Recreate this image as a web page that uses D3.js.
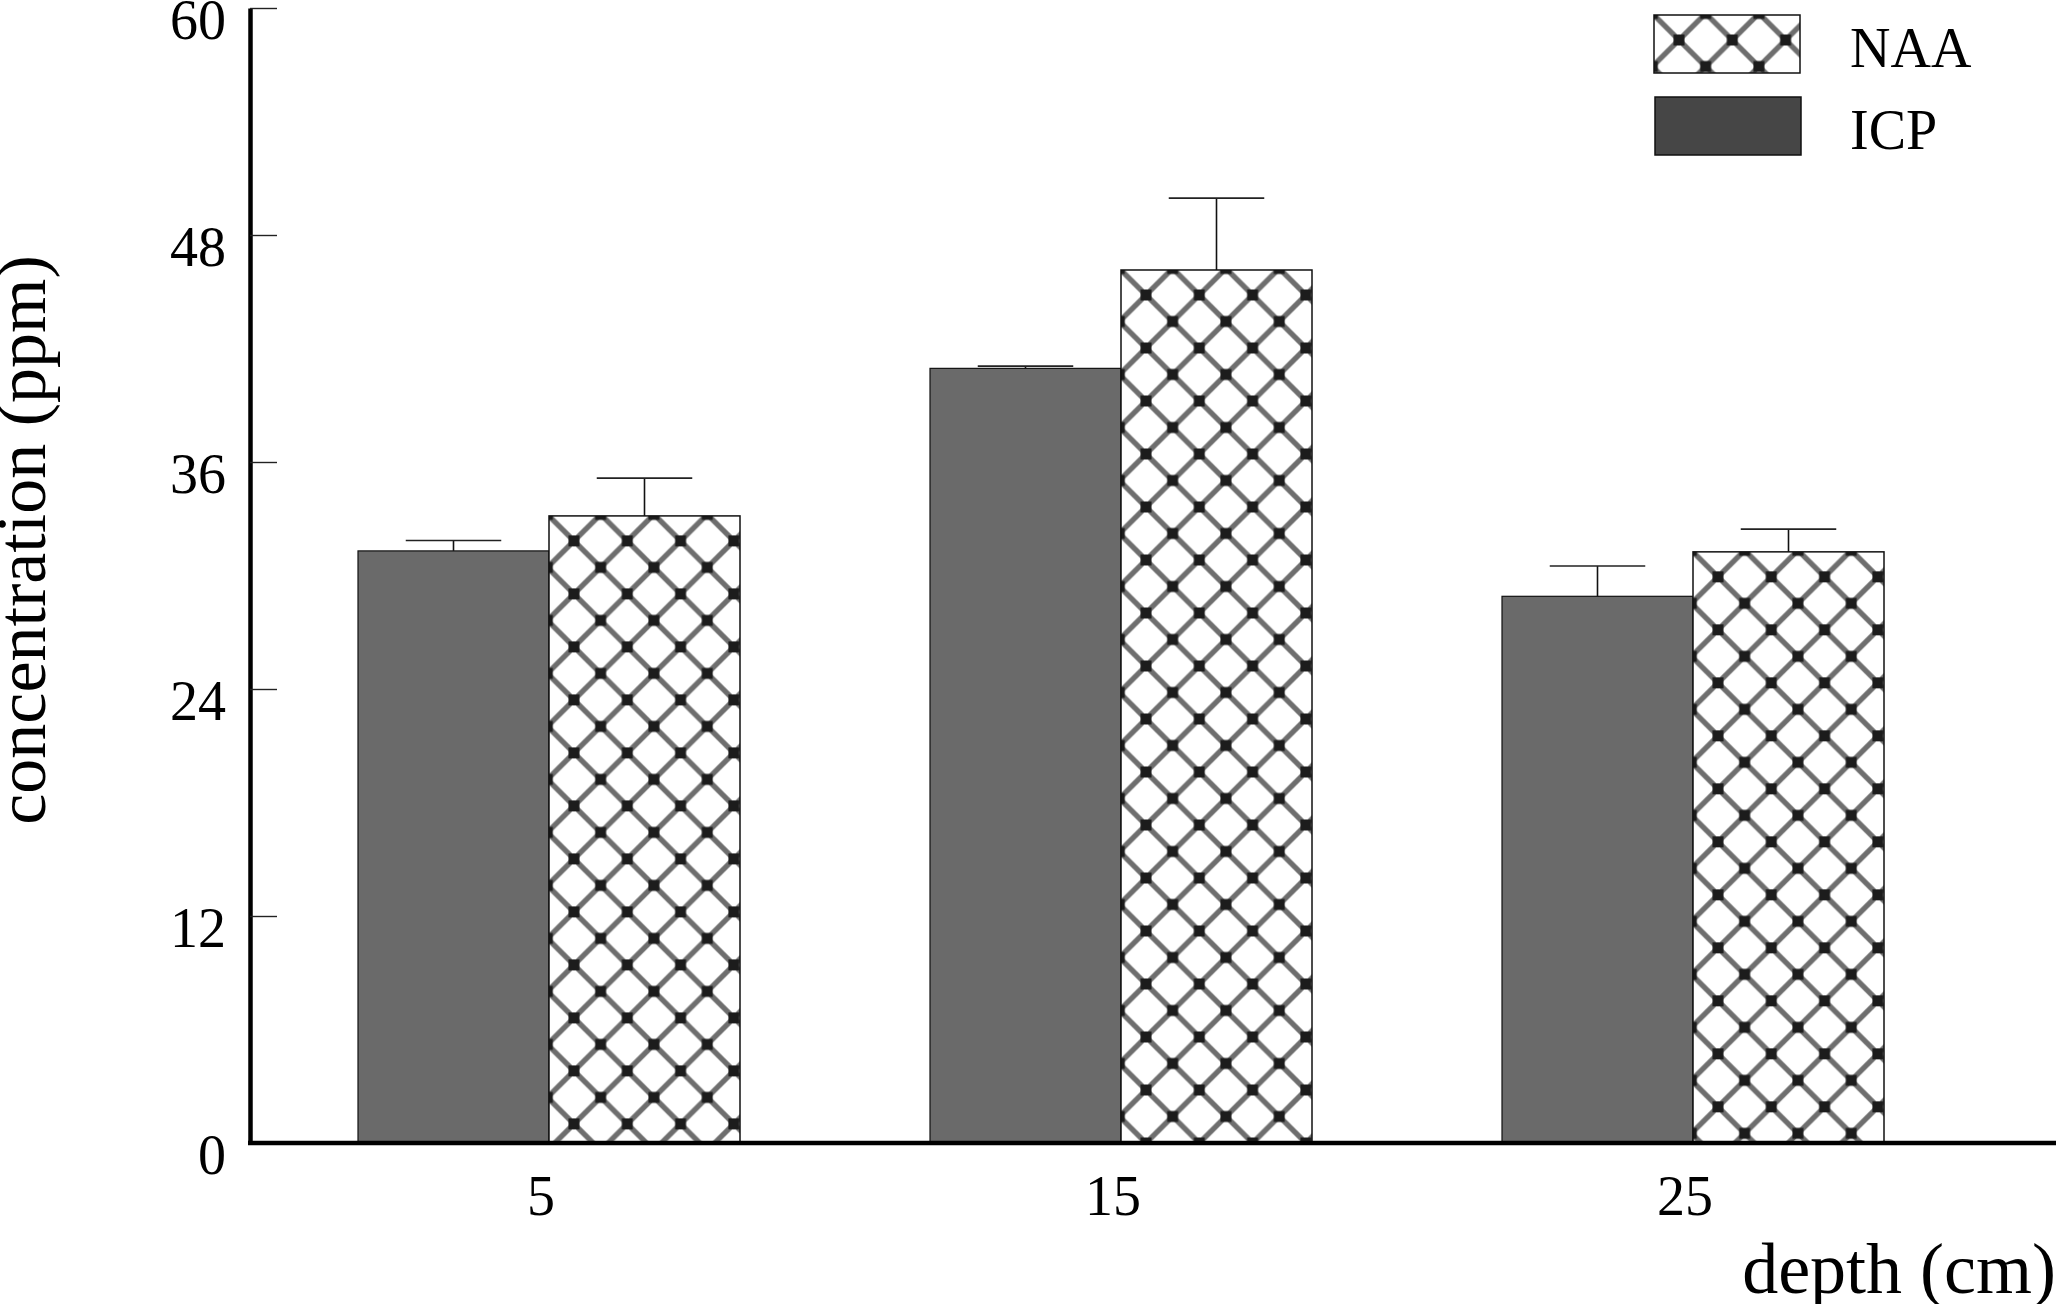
<!DOCTYPE html>
<html>
<head>
<meta charset="utf-8">
<script src="https://cdn.jsdelivr.net/npm/d3@7"></script>
<style>
  html, body { margin: 0; padding: 0; background: #fff; }
  svg { display: block; }
  text { font-family: "Liberation Serif", "Times New Roman", serif; fill: #000; }
</style>
</head>
<body>
<script>
// ---- data ----
const depths = ["5", "15", "25"];
const seriesNames = ["ICP", "NAA"];
const icpValues = [31.3, 40.95, 28.9];
const icpErrors = [0.55, 0.12, 1.6];
const naaValues = [33.15, 46.15, 31.25];
const naaErrors = [2.0, 3.8, 1.2];
const yTicks = [0, 12, 24, 36, 48, 60];
const legendOrder = ["NAA", "ICP"];
const xTitle = "depth (cm)";
const yTitle = "concentration (ppm)";

// ---- layout ----
const W = 2058, H = 1304;
const svg = d3.select("body").append("svg").attr("width", W).attr("height", H);

const y = d3.scaleLinear().domain([0, 60]).range([1143, 8]);
const x0 = d3.scaleBand().domain(depths).range([263, 1979]).padding(0);
const x1 = d3.scaleBand().domain(seriesNames).range([95, 477]).padding(0);

// ---- pattern ----
const defs = svg.append("defs");
const blur = defs.append("filter").attr("id", "soft")
  .attr("x", "-10%").attr("y", "-10%").attr("width", "120%").attr("height", "120%");
blur.append("feGaussianBlur").attr("stdDeviation", 0.7);

const pw = 53.3, ph = 53;
const pat = defs.append("pattern")
  .attr("id", "cross")
  .attr("patternUnits", "userSpaceOnUse")
  .attr("x", 25 - pw / 2).attr("y", 25 - ph / 2)
  .attr("width", pw).attr("height", ph);
pat.append("rect").attr("width", pw).attr("height", ph).attr("fill", "#fff");
const pg = pat.append("g").attr("filter", "url(#soft)");
[[-pw, -ph, 2 * pw, 2 * ph], [2 * pw, -ph, -pw, 2 * ph]].forEach(([a, b, c, d]) => {
  pg.append("line").attr("x1", a).attr("y1", b).attr("x2", c).attr("y2", d)
    .attr("stroke", "#6e6e6e").attr("stroke-width", 5.4);
});
const sq = 11;
[[0, 0], [pw, 0], [0, ph], [pw, ph], [pw / 2, ph / 2]].forEach(([cx, cy]) => {
  pg.append("rect").attr("x", cx - sq / 2).attr("y", cy - sq / 2)
    .attr("width", sq).attr("height", sq).attr("fill", "#1e1e1e");
});

// ---- bars ----
const rows = depths.map((d, i) => ({
  depth: d,
  items: [
    { key: "ICP", value: icpValues[i], err: icpErrors[i] },
    { key: "NAA", value: naaValues[i], err: naaErrors[i] }
  ]
}));

const groups = svg.append("g").selectAll("g.grp").data(rows).join("g")
  .attr("class", "grp")
  .attr("transform", d => `translate(${x0(d.depth)},0)`);

const bars = groups.selectAll("g.bar").data(d => d.items).join("g")
  .attr("class", "bar")
  .attr("transform", d => `translate(${x1(d.key)},${y(d.value)})`);

bars.append("rect")
  .attr("x", 0).attr("y", 0)
  .attr("width", x1.bandwidth())
  .attr("height", d => y(0) - y(d.value))
  .attr("fill", d => d.key === "ICP" ? "#6a6a6a" : "url(#cross)")
  .attr("stroke", "#111")
  .attr("stroke-width", d => d.key === "ICP" ? 1.2 : 1.5);

// error bars (upper only)
bars.append("line")
  .attr("x1", x1.bandwidth() / 2).attr("x2", x1.bandwidth() / 2)
  .attr("y1", 0).attr("y2", d => y(d.value + d.err) - y(d.value))
  .attr("stroke", "#111").attr("stroke-width", 1.6);
bars.append("line")
  .attr("x1", x1.bandwidth() / 4).attr("x2", x1.bandwidth() * 3 / 4)
  .attr("y1", d => y(d.value + d.err) - y(d.value))
  .attr("y2", d => y(d.value + d.err) - y(d.value))
  .attr("stroke", "#222").attr("stroke-width", 1.6);

// ---- y axis ----
const yAxis = svg.append("g").attr("transform", "translate(250,0)")
  .call(d3.axisLeft(y).tickValues(yTicks).tickSize(-27).tickPadding(24).tickSizeOuter(0));
yAxis.select(".domain").attr("stroke", "#000").attr("stroke-width", 4.5);
yAxis.selectAll(".tick line").attr("stroke", "#222").attr("stroke-width", 1.4);
yAxis.selectAll(".tick text")
  .attr("dy", null).attr("y", 30)
  .style("font-family", '"Liberation Serif", serif')
  .style("font-size", "56px").attr("fill", "#000");

// ---- x axis ----
const xAxisScale = d3.scaleBand().domain(depths).range([263, 1979]);
const xAxis = svg.append("g").attr("transform", `translate(0,${y(0)})`)
  .call(d3.axisBottom(xAxisScale).tickSize(0).tickSizeOuter(0));
xAxis.select(".domain").remove();
xAxis.selectAll(".tick text")
  .attr("dy", null).attr("y", 72).attr("x", -8)
  .style("font-family", '"Liberation Serif", serif')
  .style("font-size", "56px").attr("fill", "#000");
svg.append("line")
  .attr("x1", 248).attr("x2", 2056)
  .attr("y1", y(0)).attr("y2", y(0))
  .attr("stroke", "#000").attr("stroke-width", 4.5);

// ---- titles ----
svg.append("text")
  .attr("x", 2056).attr("y", 1293)
  .attr("text-anchor", "end")
  .style("font-size", "72px")
  .text(xTitle);
svg.append("text")
  .attr("transform", "translate(45,540) rotate(-90)")
  .attr("text-anchor", "middle")
  .style("font-size", "70px")
  .text(yTitle);

// ---- legend ----
const legendBoxes = { NAA: { x: 1654, y: 15 }, ICP: { x: 1655, y: 97 } };
const leg = svg.append("g").selectAll("g").data(legendOrder).join("g")
  .attr("transform", d => `translate(${legendBoxes[d].x},${legendBoxes[d].y})`);
leg.append("rect")
  .attr("width", 146).attr("height", 58)
  .attr("fill", d => d === "ICP" ? "#464646" : "url(#cross)")
  .attr("stroke", "#111").attr("stroke-width", 1.5);
leg.append("text")
  .attr("x", d => 1850 - legendBoxes[d].x)
  .attr("y", 52)
  .style("font-size", "56px")
  .text(d => d);
</script>
</body>
</html>
